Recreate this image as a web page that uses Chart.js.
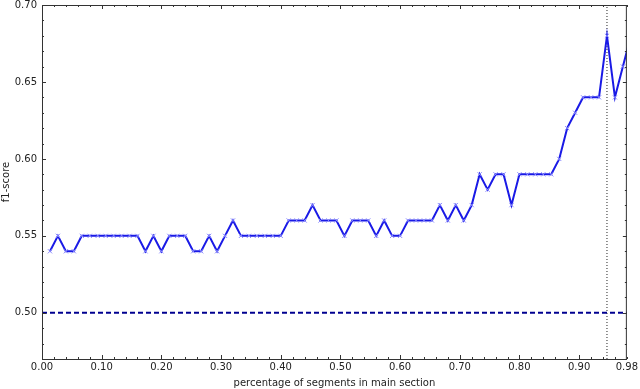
<!DOCTYPE html>
<html>
<head>
<meta charset="utf-8">
<script src="https://cdn.jsdelivr.net/npm/chart.js@4.4.0/dist/chart.umd.min.js"></script>
<style>
  html, body { margin: 0; padding: 0; background: #fff; }
  #wrap { width: 640px; height: 389px; }
</style>
</head>
<body>
<div id="wrap"><canvas id="f1Chart" width="640" height="389"></canvas></div>
<script>
// f1-score per share of segments kept in the main section
const segmentStep = 1 / 75;
const f1Scores = [
  0.54, 0.55, 0.54, 0.54, 0.55, 0.55, 0.55, 0.55, 0.55, 0.55,
  0.55, 0.55, 0.54, 0.55, 0.54, 0.55, 0.55, 0.55, 0.54, 0.54,
  0.55, 0.54, 0.55, 0.56, 0.55, 0.55, 0.55, 0.55, 0.55, 0.55,
  0.56, 0.56, 0.56, 0.57, 0.56, 0.56, 0.56, 0.55, 0.56, 0.56,
  0.56, 0.55, 0.56, 0.55, 0.55, 0.56, 0.56, 0.56, 0.56, 0.57,
  0.56, 0.57, 0.56, 0.57, 0.59, 0.58, 0.59, 0.59, 0.57, 0.59,
  0.59, 0.59, 0.59, 0.59, 0.60, 0.62, 0.63, 0.64, 0.64, 0.64,
  0.68, 0.64, 0.66, 0.68
];
const baselineScore = 0.50;
const bestPct = 71 / 75;
const xTicks = [0, 0.1, 0.2, 0.3, 0.4, 0.5, 0.6, 0.7, 0.8, 0.9, 0.98];
const yTicks = [0.50, 0.55, 0.60, 0.65, 0.70];

const f1Points = f1Scores.map((v, i) => ({ x: (i + 1) * segmentStep, y: v }));

// matplotlib-like box with inward ticks
const boxPlugin = {
  id: 'box',
  afterDraw(chart) {
    const { ctx, chartArea: a, scales } = chart;
    ctx.save();
    ctx.strokeStyle = '#333';
    ctx.lineWidth = 1;
    ctx.strokeRect(a.left + 0.5, a.top + 0.5, a.right - a.left - 1, a.bottom - a.top);
    ctx.beginPath();
    for (let v = 0; v <= 0.98 + 1e-9; v += 0.02) {
      const px = Math.round(scales.x.getPixelForValue(v)) + 0.5;
      const major = Math.abs(v * 10 - Math.round(v * 10)) < 1e-6;
      const len = major ? 4 : 2;
      ctx.moveTo(px, a.bottom); ctx.lineTo(px, a.bottom - len);
      ctx.moveTo(px, a.top); ctx.lineTo(px, a.top + len);
    }
    for (let v = 0.47; v <= 0.70 + 1e-9; v += 0.01) {
      const py = Math.round(scales.y.getPixelForValue(v)) + 0.5;
      const major = Math.abs(v * 20 - Math.round(v * 20)) < 1e-6;
      const len = major ? 4 : 2;
      ctx.moveTo(a.left, py); ctx.lineTo(a.left + len, py);
      ctx.moveTo(a.right, py); ctx.lineTo(a.right - len, py);
    }
    ctx.stroke();
    ctx.restore();
  }
};

const ctx = document.getElementById('f1Chart').getContext('2d');
const f1Chart = new Chart(ctx, {
  type: 'scatter',
  data: {
    datasets: [{
      data: f1Points,
      showLine: true,
      borderColor: '#1a1ae6',
      borderWidth: 2,
      pointStyle: 'crossRot',
      pointRadius: 3,
      pointBorderColor: '#8a8aff',
      pointBorderWidth: 1,
      tension: 0
    }, {
      data: [{ x: 0, y: baselineScore }, { x: 0.98, y: baselineScore }],
      showLine: true,
      borderColor: '#000090',
      borderWidth: 2,
      borderDash: [5, 3],
      pointRadius: 0
    }, {
      data: [{ x: bestPct, y: 0.47 }, { x: bestPct, y: 0.70 }],
      showLine: true,
      borderColor: '#222',
      borderWidth: 1,
      borderDash: [1, 2],
      pointRadius: 0
    }]
  },
  options: {
    responsive: false,
    animation: false,
    layout: { padding: { top: 5, right: 9, left: 0, bottom: 0 } },
    plugins: { legend: { display: false }, tooltip: { enabled: false } },
    scales: {
      x: {
        type: 'linear',
        min: 0,
        max: 0.98,
        afterBuildTicks: s => { s.ticks = xTicks.map(v => ({ value: v })); },
        afterFit: s => { s.height = 30; },
        grid: { display: false, drawTicks: false },
        border: { display: false },
        ticks: {
          color: '#222',
          font: { family: 'DejaVu Sans', size: 10 },
          padding: 2,
          maxRotation: 0,
          autoSkip: false,
          callback: v => v.toFixed(2)
        },
        title: {
          display: true,
          text: 'percentage of segments in main section',
          color: '#222',
          font: { family: 'DejaVu Sans', size: 10 },
          padding: { top: 1, bottom: 0 }
        }
      },
      y: {
        type: 'linear',
        min: 0.47,
        max: 0.70,
        afterBuildTicks: s => { s.ticks = yTicks.map(v => ({ value: v })); },
        afterFit: s => { s.width = 42; s.paddingTop = 0; s.paddingBottom = 0; },
        grid: { display: false, drawTicks: false },
        border: { display: false },
        ticks: {
          color: '#222',
          font: { family: 'DejaVu Sans', size: 10 },
          padding: 5,
          autoSkip: false,
          callback: v => v.toFixed(2)
        },
        title: {
          display: true,
          text: 'f1-score',
          color: '#222',
          font: { family: 'DejaVu Sans', size: 10 },
          padding: { top: 0, bottom: 0 }
        }
      }
    }
  },
  plugins: [boxPlugin]
});
</script>
</body>
</html>
